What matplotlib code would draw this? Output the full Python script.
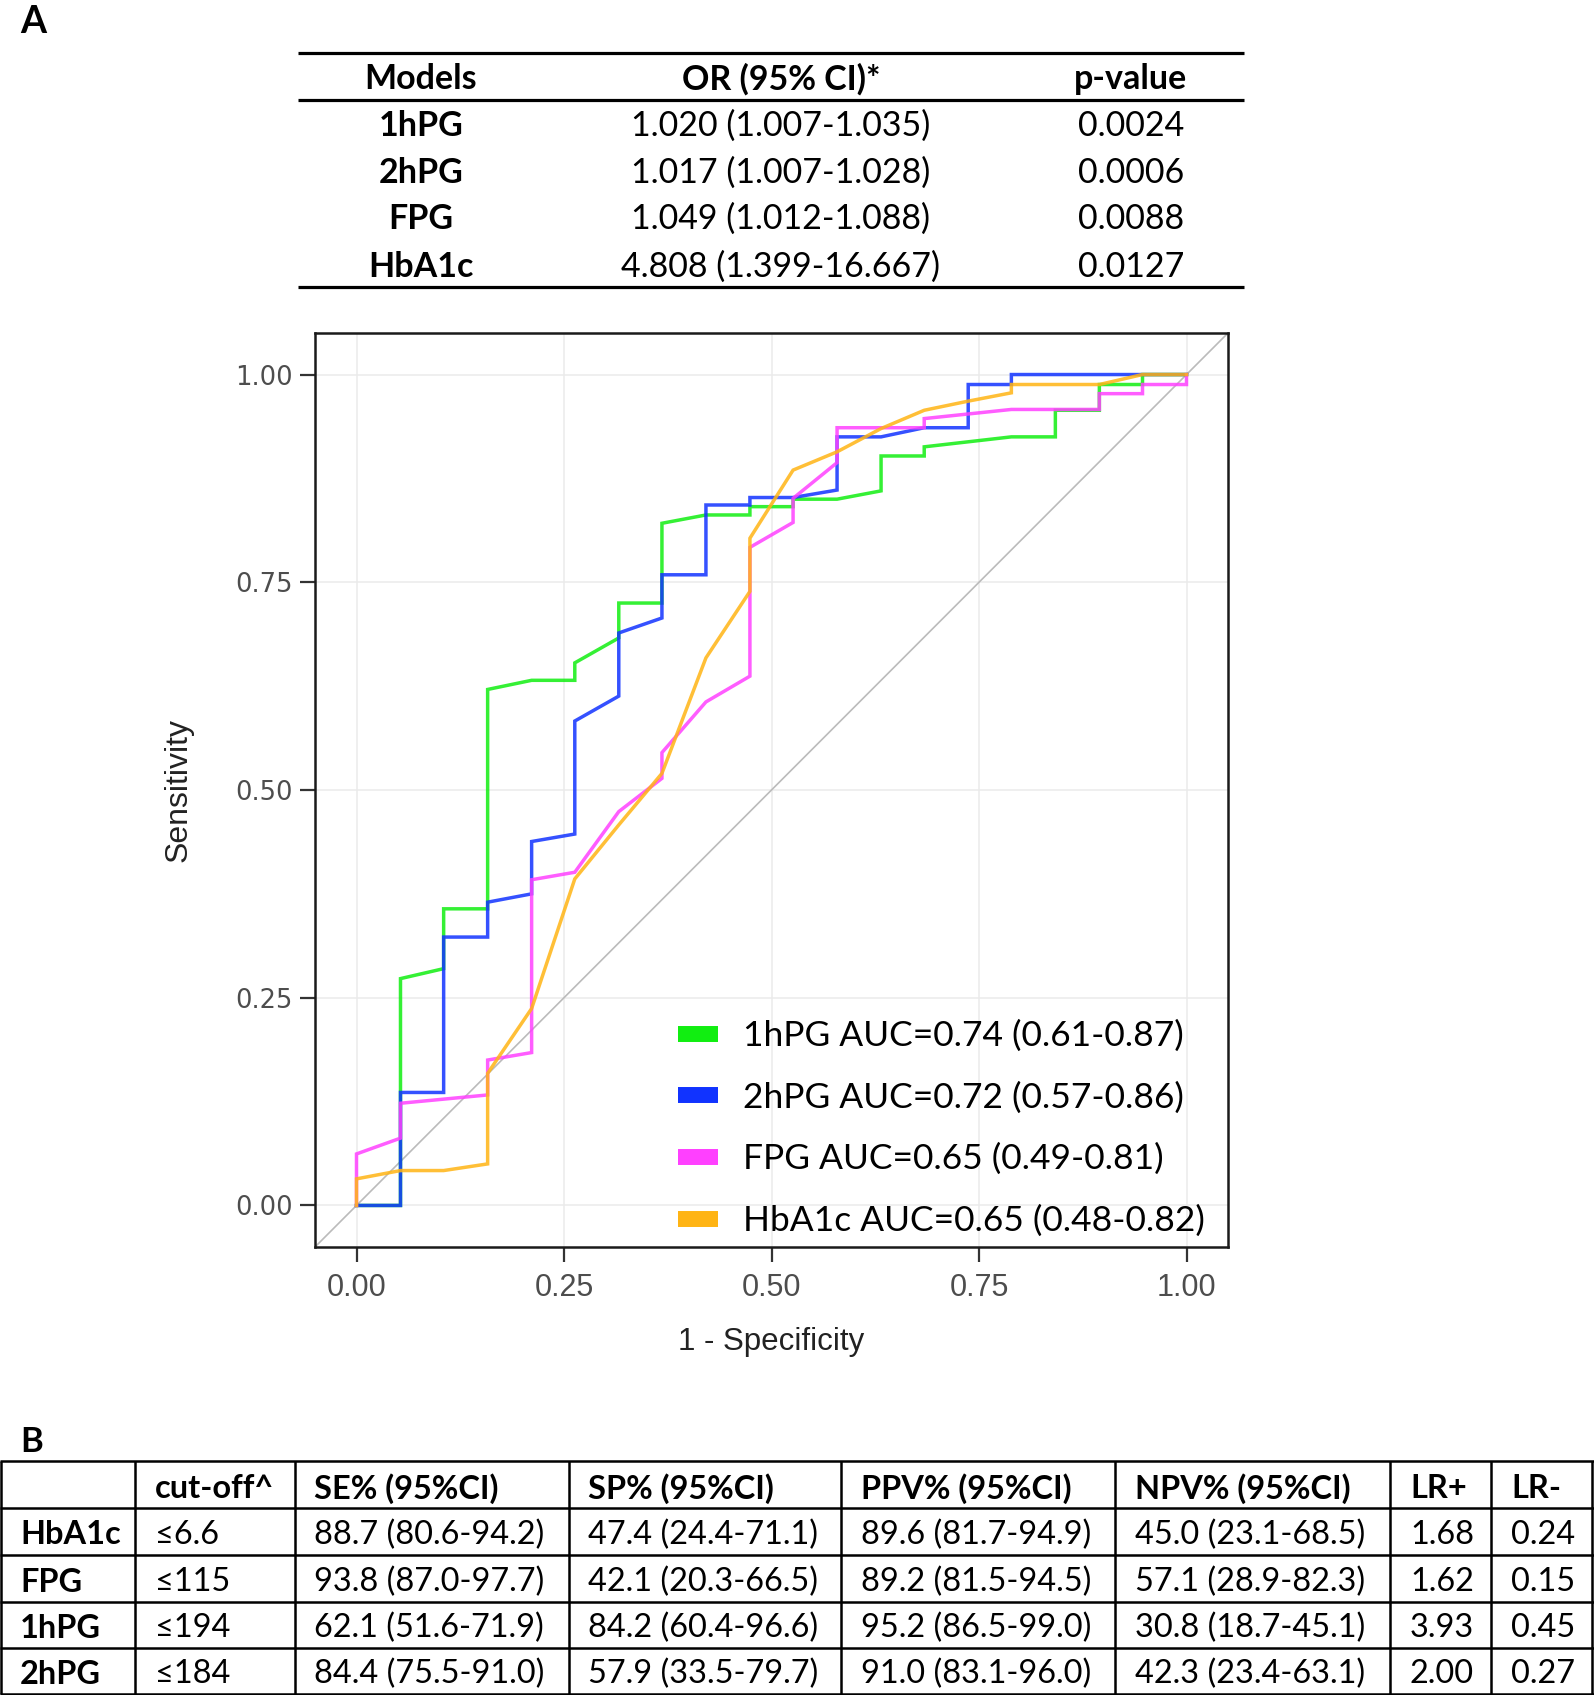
import matplotlib.pyplot as plt
from matplotlib.lines import Line2D


# ---------------- data: table A ----------------
a_header = ["Models", "OR (95% CI)*", "p-value"]
a_models = ["1hPG", "2hPG", "FPG", "HbA1c"]
a_or_ci = ["1.020 (1.007-1.035)", "1.017 (1.007-1.028)",
           "1.049 (1.012-1.088)", "4.808 (1.399-16.667)"]
a_pvalue = ["0.0024", "0.0006", "0.0088", "0.0127"]

# ---------------- data: ROC curves ----------------
x_1hpg = [0, 0.053, 0.053, 0.105, 0.105, 0.158, 0.158, 0.211, 0.263, 0.263,
          0.316, 0.316, 0.368, 0.368, 0.421, 0.474, 0.474, 0.526, 0.526, 0.579,
          0.632, 0.632, 0.684, 0.684, 0.789, 0.842, 0.842, 0.895, 0.895, 0.947,
          0.947, 1.0]
y_1hpg = [0, 0, 0.273, 0.285, 0.357, 0.357, 0.621, 0.632, 0.632, 0.653,
          0.683, 0.725, 0.725, 0.821, 0.831, 0.831, 0.841, 0.841, 0.850, 0.850,
          0.860, 0.902, 0.902, 0.913, 0.925, 0.925, 0.957, 0.957, 0.988, 0.988,
          1.0, 1.0]

x_2hpg = [0, 0.053, 0.053, 0.105, 0.105, 0.158, 0.158, 0.211, 0.211, 0.263,
          0.263, 0.316, 0.316, 0.368, 0.368, 0.421, 0.421, 0.474, 0.474, 0.526,
          0.579, 0.579, 0.632, 0.684, 0.737, 0.737, 0.789, 0.789, 1.0]
y_2hpg = [0, 0, 0.136, 0.136, 0.323, 0.323, 0.365, 0.375, 0.438, 0.447,
          0.583, 0.613, 0.689, 0.707, 0.759, 0.759, 0.843, 0.843, 0.852, 0.852,
          0.861, 0.925, 0.925, 0.936, 0.936, 0.988, 0.988, 1.0, 1.0]

x_fpg = [0, 0, 0.053, 0.053, 0.158, 0.158, 0.211, 0.211, 0.263, 0.316,
         0.368, 0.368, 0.421, 0.474, 0.474, 0.526, 0.526, 0.579, 0.579, 0.684,
         0.684, 0.789, 0.895, 0.895, 0.947, 0.947, 1.0, 1.0]
y_fpg = [0, 0.062, 0.081, 0.123, 0.133, 0.175, 0.184, 0.392, 0.401, 0.474,
         0.514, 0.545, 0.606, 0.637, 0.792, 0.822, 0.851, 0.894, 0.936, 0.936,
         0.947, 0.958, 0.958, 0.977, 0.977, 0.988, 0.988, 1.0]

x_hba1c = [0, 0, 0.053, 0.105, 0.158, 0.158, 0.211, 0.263, 0.316, 0.368,
           0.421, 0.474, 0.474, 0.526, 0.579, 0.632, 0.684, 0.737, 0.789, 0.789,
           0.895, 0.947, 1.0]
y_hba1c = [0, 0.032, 0.042, 0.042, 0.050, 0.159, 0.237, 0.393, 0.458, 0.520,
           0.659, 0.739, 0.803, 0.885, 0.907, 0.935, 0.957, 0.968, 0.978, 0.988,
           0.988, 1.0, 1.0]

roc_labels = ["1hPG AUC=0.74 (0.61-0.87)", "2hPG AUC=0.72 (0.57-0.86)",
              "FPG AUC=0.65 (0.49-0.81)", "HbA1c AUC=0.65 (0.48-0.82)"]
roc_ticks = [0.00, 0.25, 0.50, 0.75, 1.00]

# ---------------- data: table B ----------------
b_header = ["", "cut-off^", "SE% (95%CI)", "SP% (95%CI)", "PPV% (95%CI)",
            "NPV% (95%CI)", "LR+", "LR-"]
b_models = ["HbA1c", "FPG", "1hPG", "2hPG"]
b_cutoff = ["≤6.6", "≤115", "≤194", "≤184"]
b_se = ["88.7 (80.6-94.2)", "93.8 (87.0-97.7)", "62.1 (51.6-71.9)", "84.4 (75.5-91.0)"]
b_sp = ["47.4 (24.4-71.1)", "42.1 (20.3-66.5)", "84.2 (60.4-96.6)", "57.9 (33.5-79.7)"]
b_ppv = ["89.6 (81.7-94.9)", "89.2 (81.5-94.5)", "95.2 (86.5-99.0)", "91.0 (83.1-96.0)"]
b_npv = ["45.0 (23.1-68.5)", "57.1 (28.9-82.3)", "30.8 (18.7-45.1)", "42.3 (23.4-63.1)"]
b_lrp = ["1.68", "1.62", "3.93", "2.00"]
b_lrn = ["0.24", "0.15", "0.45", "0.27"]


# ---------------- styles ----------------
TABLE_FONT = ["Lato", "DejaVu Sans"]
AXIS_FONT = ["Liberation Sans", "DejaVu Sans"]
curve_colors = ["#11EE11", "#1133FF", "#FF40FF", "#FFB414"]

W, H = 1594, 1695
fig = plt.figure(figsize=(W / 100, H / 100), dpi=100)

# overlay in pixel coordinates for the two tables and panel letters
tab = fig.add_axes([0, 0, 1, 1])
tab.set_xlim(0, W)
tab.set_ylim(H, 0)
tab.axis("off")

tab.text(33, 22, "A", fontsize=27, fontweight="bold", family=TABLE_FONT,
         ha="center", va="center")
tab.text(32, 1442, "B", fontsize=25, fontweight="bold", family=TABLE_FONT,
         ha="center", va="center")

# ---- table A ----
a_col_x = [421, 781, 1131]
a_row_y = [126, 173, 219, 267]
tab.hlines([53, 100, 287], 298, 1244, color="black", lw=2.3)
for cx, txt in zip(a_col_x, a_header):
    tab.text(cx, 79, txt, fontsize=24.5, fontweight="bold", family=TABLE_FONT,
             ha="center", va="center")
for ry, m, o, p in zip(a_row_y, a_models, a_or_ci, a_pvalue):
    tab.text(a_col_x[0], ry, m, fontsize=24.5, fontweight="bold",
             family=TABLE_FONT, ha="center", va="center")
    tab.text(a_col_x[1], ry, o, fontsize=24.5, family=TABLE_FONT,
             ha="center", va="center")
    tab.text(a_col_x[2], ry, p, fontsize=24.5, family=TABLE_FONT,
             ha="center", va="center")

# ---- table B ----
b_hlines = [1461, 1508, 1555, 1602, 1648, 1694]
b_vlines = [1.5, 135, 295, 569, 841, 1115, 1390, 1491, 1592.5]
b_text_x = [20, 155, 314, 588, 861, 1135, 1410, 1511]
b_row_y = [1535, 1582, 1628, 1674]
tab.hlines(b_hlines, 0, W, color="black", lw=1.8)
tab.vlines(b_vlines, b_hlines[0], b_hlines[-1], color="black", lw=1.8)
for tx, txt in zip(b_text_x, b_header):
    tab.text(tx, 1489, txt, fontsize=23.4, fontweight="bold", family=TABLE_FONT,
             ha="left", va="center")
b_columns = [b_cutoff, b_se, b_sp, b_ppv, b_npv, b_lrp, b_lrn]
for i, ry in enumerate(b_row_y):
    tab.text(b_text_x[0], ry, b_models[i], fontsize=23.4, fontweight="bold",
             family=TABLE_FONT, ha="left", va="center")
    for tx, col in zip(b_text_x[1:], b_columns):
        tab.text(tx, ry, col[i], fontsize=23.4, family=TABLE_FONT,
                 ha="left", va="center")

# ---- ROC panel ----
ax = fig.add_axes([315 / W, 1 - 1247 / H, 913 / W, 914 / H])
ax.set_xlim(-0.05, 1.05)
ax.set_ylim(-0.05, 1.05)
ax.set_xticks(roc_ticks)
ax.set_yticks(roc_ticks)
ax.set_xticklabels([f"{t:.2f}" for t in roc_ticks])
ax.set_yticklabels([f"{t:.2f}" for t in roc_ticks])
ax.grid(True, color="#EBEBEB", lw=1.1)
ax.set_axisbelow(True)
for sp in ax.spines.values():
    sp.set_linewidth(1.8)
    sp.set_color("#1A1A1A")

ax.tick_params(axis="both", length=11, width=1.6, color="#333333",
               labelcolor="#4D4D4D")
ax.tick_params(axis="x", pad=8, labelsize=22)
ax.tick_params(axis="y", pad=5, labelsize=18.5)
for lab in ax.get_xticklabels():
    lab.set_family(AXIS_FONT)
for lab in ax.get_yticklabels():
    lab.set_family(["DejaVu Sans"])

# chance line
ax.plot([-0.05, 1.05], [-0.05, 1.05], color="#BBBBBB", lw=1.2, zorder=1)

curves = [(x_1hpg, y_1hpg), (x_2hpg, y_2hpg), (x_fpg, y_fpg), (x_hba1c, y_hba1c)]
for (xs, ys), c in zip(curves, curve_colors):
    ax.plot(xs, ys, color=c, lw=2.5, alpha=0.85, zorder=3,
            solid_joinstyle="miter")

ax.text(0.4995, -0.104, "1 - Specificity", transform=ax.transAxes,
        fontsize=22.5, family=AXIS_FONT, color="#222222",
        ha="center", va="center")
ax.text(-0.150, 0.5, "Sensitivity", transform=ax.transAxes, rotation=90,
        fontsize=23, family=AXIS_FONT, color="#222222",
        ha="center", va="center")

handles = [Line2D([], [], color=c, lw=11.5, solid_capstyle="butt")
           for c in curve_colors]
ax.legend(handles, roc_labels, loc="lower left", bbox_to_anchor=(0.3976, 0.011),
          frameon=False, prop={"family": TABLE_FONT, "size": 25.5},
          handlelength=1.12, handletextpad=0.72, labelspacing=0.83,
          borderpad=0, borderaxespad=0)

plt.savefig("out.png", dpi=100)
